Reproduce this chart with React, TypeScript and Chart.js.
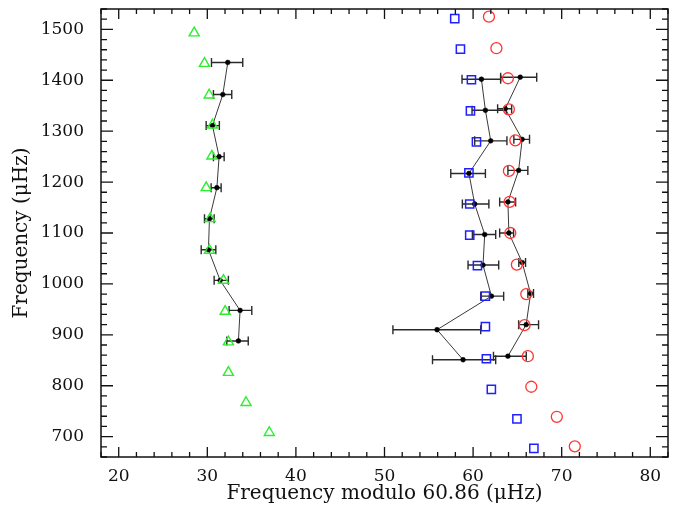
import React, { useEffect, useRef } from 'react';
import { Chart, registerables } from 'chart.js';

Chart.register(...registerables);

// ---- Data ----
// Green triangles
const greenX = [28.52, 29.68, 30.21, 30.58, 30.51, 29.87, 30.32, 30.24, 31.82, 32.01, 32.38, 32.38, 34.37, 37.0];
const greenY = [1493, 1433, 1371, 1312, 1251, 1189, 1128, 1066, 1007, 946, 886, 826, 767, 708];

// Blue squares
const blueX = [57.93, 58.57, 59.81, 59.7, 60.38, 59.53, 59.62, 59.62, 60.49, 61.39, 61.39, 61.5, 62.06, 64.95, 66.86];
const blueY = [1521, 1461, 1401, 1340, 1279, 1218, 1157, 1096, 1036, 976, 916, 853, 793, 735, 677];

// Red circles
const redX = [61.79, 62.63, 63.93, 64.04, 64.77, 64.04, 64.12, 64.2, 64.94, 66.0, 65.81, 66.18, 66.57, 69.45, 71.48];
const redY = [1525, 1463, 1404, 1343, 1282, 1222, 1161, 1100, 1038, 980, 919, 858, 798, 739, 681];

// Observed ridge (left) with horizontal error bars
const obsLeftX = [32.31, 31.75, 30.58, 31.33, 31.08, 30.24, 30.13, 31.45, 33.7, 33.51];
const obsLeftLo = [30.47, 30.69, 29.87, 30.69, 30.43, 29.68, 29.31, 30.77, 32.46, 32.2];
const obsLeftHi = [34.0, 32.76, 31.36, 31.9, 31.56, 30.77, 30.96, 32.38, 35.02, 34.62];
const obsLeftY = [1435, 1372, 1311, 1250, 1189, 1128, 1067, 1007, 948, 888];

// Observed ridge (middle)
const obsMidX = [60.94, 61.39, 61.99, 59.53, 60.18, 61.31, 61.12, 62.07, 55.93, 58.87];
const obsMidLo = [58.75, 59.88, 60.18, 57.48, 58.79, 59.92, 59.43, 60.86, 50.95, 55.42];
const obsMidHi = [63.11, 63.75, 63.82, 61.39, 61.78, 62.55, 62.89, 63.45, 60.86, 62.55];
const obsMidY = [1402, 1341, 1281, 1217, 1157, 1097, 1037, 976, 910, 851];

// Observed ridge (right)
const obsRightX = [65.32, 63.63, 65.54, 65.14, 63.93, 64.04, 65.54, 66.49, 65.99, 63.93];
const obsRightLo = [63.11, 62.77, 64.6, 63.93, 63.0, 63.0, 65.16, 66.18, 65.14, 62.3];
const obsRightHi = [67.18, 64.35, 66.37, 66.18, 64.8, 64.57, 65.92, 66.82, 67.39, 66.0];
const obsRightY = [1406, 1344, 1284, 1223, 1161, 1100, 1042, 981, 920, 858];

// Axis ticks
const xTickValues = [20, 30, 40, 50, 60, 70, 80];
const yTickValues = [700, 800, 900, 1000, 1100, 1200, 1300, 1400, 1500];
const xRange = [18, 82];
const yRange = [660, 1540];
const xMinorStep = 2;
const yMinorStep = 20;

const xTitle = 'Frequency modulo 60.86 (μHz)';
const yTitle = 'Frequency (μHz)';

const FONT = '"DejaVu Serif", serif';

const toPts = (xs: number[], ys: number[]) => xs.map((x, i) => ({ x, y: ys[i] }));

const errorSets = [
  { y: obsLeftY, lo: obsLeftLo, hi: obsLeftHi },
  { y: obsMidY, lo: obsMidLo, hi: obsMidHi },
  { y: obsRightY, lo: obsRightLo, hi: obsRightHi },
];

const errorBarPlugin = {
  id: 'errorBars',
  beforeDatasetsDraw(chart: any) {
    const { ctx, scales } = chart;
    const xs = scales.x;
    const ys = scales.y;
    ctx.save();
    ctx.strokeStyle = '#2a2a2a';
    ctx.lineWidth = 1.4;
    const cap = 4.5;
    errorSets.forEach((set) => {
      set.y.forEach((yv, i) => {
        const py = ys.getPixelForValue(yv);
        const x1 = xs.getPixelForValue(set.lo[i]);
        const x2 = xs.getPixelForValue(set.hi[i]);
        ctx.beginPath();
        ctx.moveTo(x1, py);
        ctx.lineTo(x2, py);
        ctx.moveTo(x1, py - cap);
        ctx.lineTo(x1, py + cap);
        ctx.moveTo(x2, py - cap);
        ctx.lineTo(x2, py + cap);
        ctx.stroke();
      });
    });
    ctx.restore();
  },
};

const framePlugin = {
  id: 'frameTicks',
  afterDatasetsDraw(chart: any) {
    const { ctx, chartArea, scales } = chart;
    const xs = scales.x;
    const ys = scales.y;
    const { left, right, top, bottom } = chartArea;
    ctx.save();
    ctx.strokeStyle = '#111';
    ctx.lineWidth = 1.5;
    ctx.strokeRect(left, top, right - left, bottom - top);
    ctx.lineWidth = 1.3;
    ctx.beginPath();
    for (let v = Math.ceil(xRange[0] / xMinorStep) * xMinorStep; v <= xRange[1]; v += xMinorStep) {
      const px = xs.getPixelForValue(v);
      const len = v % 10 === 0 ? 10 : 5;
      ctx.moveTo(px, bottom);
      ctx.lineTo(px, bottom - len);
      ctx.moveTo(px, top);
      ctx.lineTo(px, top + len);
    }
    for (let v = Math.ceil(yRange[0] / yMinorStep) * yMinorStep; v <= yRange[1]; v += yMinorStep) {
      const py = ys.getPixelForValue(v);
      const len = v % 100 === 0 ? 12 : 6;
      ctx.moveTo(left, py);
      ctx.lineTo(left + len, py);
      ctx.moveTo(right, py);
      ctx.lineTo(right - len, py);
    }
    ctx.stroke();
    ctx.restore();
  },
};

export default function App() {
  const ref = useRef<HTMLCanvasElement>(null);
  useEffect(() => {
    document.body.style.margin = '0';
    const lineDs = (label: string, xs: number[], ys: number[]) => ({
      label,
      data: toPts(xs, ys),
      showLine: true,
      borderColor: '#3a3a3a',
      borderWidth: 1,
      pointStyle: 'circle',
      pointRadius: 2.4,
      pointBackgroundColor: '#000',
      pointBorderColor: '#000',
      pointBorderWidth: 0.5,
      order: 2,
    });
    const chart = new Chart(ref.current as HTMLCanvasElement, {
      type: 'scatter',
      data: {
        datasets: [
          lineDs('obs left', obsLeftX, obsLeftY),
          lineDs('obs mid', obsMidX, obsMidY),
          lineDs('obs right', obsRightX, obsRightY),
          {
            label: 'green',
            data: toPts(greenX, greenY),
            pointStyle: 'triangle',
            pointRadius: 5.8,
            borderColor: '#2cee2c',
            backgroundColor: 'rgba(0,0,0,0)',
            pointBorderWidth: 1.4,
            borderWidth: 1.4,
            order: 1,
          } as any,
          {
            label: 'blue',
            data: toPts(blueX, blueY),
            pointStyle: 'rect',
            pointRadius: 5.8,
            borderColor: '#2020ff',
            backgroundColor: 'rgba(0,0,0,0)',
            pointBorderWidth: 1.5,
            borderWidth: 1.5,
            order: 1,
          } as any,
          {
            label: 'red',
            data: toPts(redX, redY),
            pointStyle: 'circle',
            pointRadius: 5.5,
            borderColor: '#ff3535',
            backgroundColor: 'rgba(0,0,0,0)',
            pointBorderWidth: 1.3,
            borderWidth: 1.3,
            order: 1,
          } as any,
        ],
      },
      options: {
        responsive: false,
        animation: false,
        layout: { padding: { top: 9, right: 17, left: 0, bottom: 0 } },
        plugins: { legend: { display: false }, tooltip: { enabled: false } },
        scales: {
          x: {
            type: 'linear',
            min: xRange[0],
            max: xRange[1],
            grid: { display: false, drawTicks: false },
            border: { display: false },
            afterBuildTicks: (s: any) => {
              s.ticks = xTickValues.map((v) => ({ value: v }));
            },
            afterFit: (s: any) => {
              s.height = 49;
              s.paddingLeft = 0;
              s.paddingRight = 0;
            },
            ticks: {
              padding: 9,
              color: '#111',
              maxRotation: 0,
              autoSkip: false,
              font: { family: FONT, size: 17 },
              callback: (v: any) => String(v),
            },
            title: {
              display: true,
              text: xTitle,
              color: '#111',
              padding: { top: 0, bottom: 0 },
              font: { family: FONT, size: 20 },
            },
          },
          y: {
            type: 'linear',
            min: yRange[0],
            max: yRange[1],
            grid: { display: false, drawTicks: false },
            border: { display: false },
            afterBuildTicks: (s: any) => {
              s.ticks = yTickValues.map((v) => ({ value: v }));
            },
            afterFit: (s: any) => {
              s.width = 101;
              s.paddingTop = 0;
              s.paddingBottom = 0;
            },
            ticks: {
              padding: 17,
              color: '#111',
              autoSkip: false,
              font: { family: FONT, size: 17 },
              callback: (v: any) => String(v),
            },
            title: {
              display: true,
              text: yTitle,
              color: '#111',
              padding: { top: 10, bottom: 0 },
              font: { family: FONT, size: 20 },
            },
          },
        },
      },
      plugins: [errorBarPlugin, framePlugin],
    });
    return () => chart.destroy();
  }, []);
  return (
    <div style={{ width: 685, height: 506 }}>
      <canvas ref={ref} width={685} height={506} style={{ display: 'block' }} />
    </div>
  );
}
